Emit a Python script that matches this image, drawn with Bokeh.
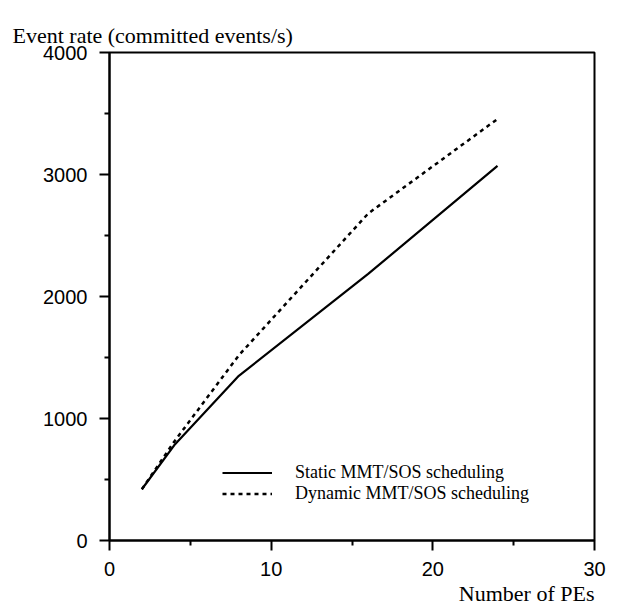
from bokeh.plotting import figure
from bokeh.models import Range1d, Legend, LegendItem, FixedTicker, Title
from bokeh.embed import file_html
from bokeh.resources import INLINE

# Data
pes = [2, 4, 8, 16, 24]
static_rate = [420, 780, 1350, 2185, 3070]
dynamic_rate = [420, 810, 1518, 2680, 3455]
x_ticks = [0, 10, 20, 30]
y_ticks = [0, 1000, 2000, 3000, 4000]
y_title = "Event rate (committed events/s)"
x_title = "Number of PEs"
series_names = ["Static MMT/SOS scheduling", "Dynamic MMT/SOS scheduling"]

W, H = 619, 611
p = figure(width=W, height=H, output_backend="svg", toolbar_location=None,
           x_range=Range1d(0, 30), y_range=Range1d(0, 4000),
           min_border_left=109, min_border_right=25, min_border_top=52, min_border_bottom=71)
p.background_fill_color = "white"
p.border_fill_color = "white"
p.xgrid.visible = False
p.ygrid.visible = False
p.outline_line_color = "black"
p.outline_line_width = 2

r_static = p.line(pes, static_rate, line_color="black", line_width=2.2)
r_dyn = p.line(pes, dynamic_rate, line_color="black", line_width=2.5, line_dash="4 4")

for ax, ticks in ((p.xaxis[0], x_ticks), (p.yaxis[0], y_ticks)):
    ax.ticker = FixedTicker(ticks=ticks, minor_ticks=[t + (ticks[1] - ticks[0]) / 2 for t in ticks[:-1]])
    ax.axis_line_width = 2
    ax.axis_line_color = "black"
    ax.major_tick_line_width = 2
    ax.minor_tick_line_width = 2
    ax.major_tick_line_color = "black"
    ax.minor_tick_line_color = "black"
    ax.major_tick_out = 10
    ax.major_tick_in = 0
    ax.minor_tick_out = 5
    ax.minor_tick_in = 0
    ax.major_label_text_font = "Liberation Sans"
    ax.major_label_text_font_size = "20px"
    ax.major_label_text_color = "black"

p.xaxis[0].major_label_standoff = 11
p.yaxis[0].major_label_standoff = 12

p.title = Title(text=y_title, align="left", offset=-97, standoff=10,
                text_line_height=0.5,
                text_font="Liberation Serif", text_font_size="22px",
                text_font_style="normal", text_color="black")
p.add_layout(Title(text=x_title, align="right", offset=0, standoff=0,
                   text_line_height=1.4,
                   text_font="Liberation Serif", text_font_size="22px",
                   text_font_style="normal", text_color="black"), "below")

legend = Legend(items=[LegendItem(label=series_names[0], renderers=[r_static]),
                       LegendItem(label=series_names[1], renderers=[r_dyn])],
                location=(113, 36), orientation="vertical",
                glyph_width=50, glyph_height=17, label_height=17, label_standoff=23,
                spacing=-3, padding=0, margin=0,
                label_text_font="Liberation Serif", label_text_font_size="18px",
                label_text_color="black", label_text_line_height=0.9,
                border_line_color=None, background_fill_alpha=0)
p.add_layout(legend)

open("out.html", "w").write(file_html(p, INLINE))
